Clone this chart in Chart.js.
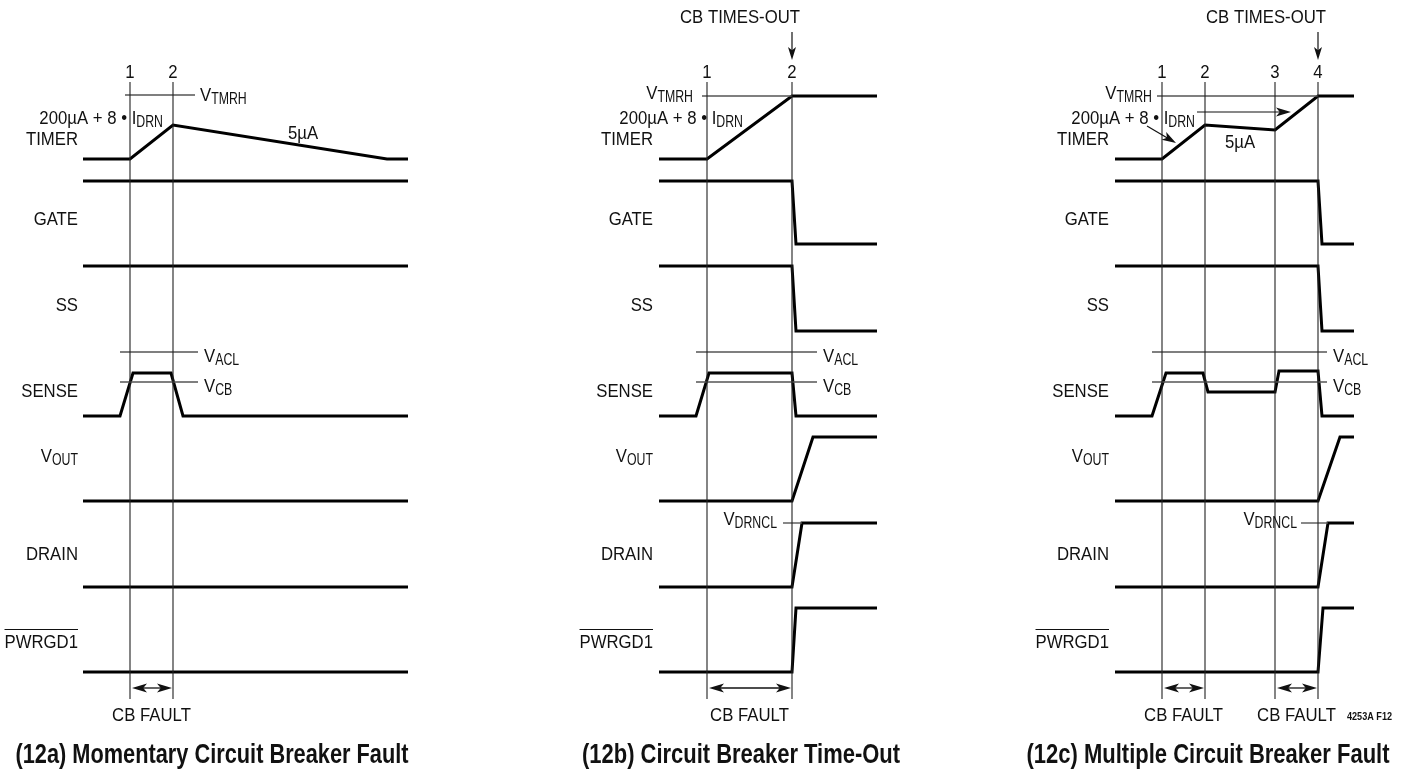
<!DOCTYPE html>
<html><head><meta charset="utf-8">
<script src="https://cdn.jsdelivr.net/npm/chart.js@4.4.1/dist/chart.umd.min.js"></script>
<style>html,body{margin:0;padding:0;background:#fff;overflow:hidden}canvas{display:block}</style>
</head><body>
<canvas id="c" width="1404" height="775"></canvas>
<script>
// ---------- DATA ----------
const signalNames = ['TIMER', 'GATE', 'SS', 'SENSE', 'VOUT', 'DRAIN', 'PWRGD1'];
const panelTitles = ['(12a) Momentary Circuit Breaker Fault', '(12b) Circuit Breaker Time-Out', '(12c) Multiple Circuit Breaker Fault'];
const eventLabelsA = ['1', '2'];
const eventLabelsB = ['1', '2'];
const eventLabelsC = ['1', '2', '3', '4'];

// Panel 12a waveforms: [time, level]
const eventsA = [130, 173];
const timerA = [[83,159],[130,159],[173,125],[387,159],[408,159]];
const gateA  = [[83,181],[408,181]];
const ssA    = [[83,266],[408,266]];
const senseA = [[83,416],[120,416],[133,373],[171,373],[183,416],[408,416]];
const voutA  = [[83,501],[408,501]];
const drainA = [[83,587],[408,587]];
const pwrgdA = [[83,672],[408,672]];

// Panel 12b waveforms
const eventsB = [707, 792];
const timerB = [[659,159],[707,159],[792,96],[877,96]];
const gateB  = [[659,181],[792,181],[796,244],[877,244]];
const ssB    = [[659,266],[792,266],[796,331],[877,331]];
const senseB = [[659,416],[696,416],[709,373],[792,373],[796,416],[877,416]];
const voutB  = [[659,501],[792,501],[813,437],[877,437]];
const drainB = [[659,587],[792,587],[802,523],[877,523]];
const pwrgdB = [[659,672],[792,672],[796,608],[877,608]];

// Panel 12c waveforms
const eventsC = [1162, 1205, 1275, 1318];
const timerC = [[1115,159],[1162,159],[1205,125],[1275,130],[1318,96],[1354,96]];
const gateC  = [[1115,181],[1318,181],[1322,244],[1354,244]];
const ssC    = [[1115,266],[1318,266],[1322,331],[1354,331]];
const senseC = [[1115,416],[1152,416],[1166,373],[1203,373],[1208,392],[1275,392],[1279,371],[1318,371],[1322,416],[1354,416]];
const voutC  = [[1115,501],[1318,501],[1340,437],[1354,437]];
const drainC = [[1115,587],[1318,587],[1328,523],[1354,523]];
const pwrgdC = [[1115,672],[1318,672],[1323,608],[1354,608]];

// Threshold levels: [start, end, level]
const vtmrhA = [125, 195, 95],  vaclA = [120, 198, 352], vcbA = [120, 198, 382];
const vtmrhB = [702, 792, 96],  vaclB = [696, 817, 352], vcbB = [696, 817, 382], vdrnclB = [783, 802, 523];
const vtmrhC = [1157, 1318, 96], vaclC = [1152, 1327, 352], vcbC = [1152, 1327, 382], vdrnclC = [1301, 1328, 523];

// Event marker span (level range)
const eventSpan = [82, 699];
// CB fault intervals
const faultsA = [[130, 173]];
const faultsB = [[707, 792]];
const faultsC = [[1162, 1205], [1275, 1318]];
const timeoutB = 792, timeoutC = 1318;

// ---------- BUILD ----------
const toXY = arr => arr.map(([x, y]) => ({x, y}));
const wave = arr => ({data: toXY(arr), borderColor: '#000', borderWidth: 3, showLine: true, pointRadius: 0, fill: false, tension: 0, borderJoinStyle: 'miter', borderCapStyle: 'butt'});
const thin = (pts, color, w) => ({data: toXY(pts), borderColor: color, borderWidth: w, showLine: true, pointRadius: 0, fill: false, tension: 0});
const hline = ([a, b, y]) => thin([[a, y], [b, y]], '#555', 1.4);
const vline = x => thin([[x, eventSpan[0]], [x, eventSpan[1]]], '#222', 1.1);

const datasets = [];
[...eventsA, ...eventsB, ...eventsC].forEach(x => datasets.push(vline(x)));
[vtmrhA, vaclA, vcbA, vtmrhB, vaclB, vcbB, vdrnclB, vtmrhC, vaclC, vcbC, vdrnclC].forEach(l => datasets.push(hline(l)));
[timerA, gateA, ssA, senseA, voutA, drainA, pwrgdA,
 timerB, gateB, ssB, senseB, voutB, drainB, pwrgdB,
 timerC, gateC, ssC, senseC, voutC, drainC, pwrgdC].forEach(w => datasets.push(wave(w)));

const FAM = '"Liberation Sans", Arial, sans-serif';
const MAIN = {font: '18px ' + FAM, sx: 0.93};
const SUB = {font: '16px ' + FAM, sx: 0.77};

function partW(ctx, p) { const f = p.sub ? SUB : MAIN; ctx.font = f.font; return ctx.measureText(p.t).width * f.sx; }
function rich(ctx, X, Y, parts, align, overline) {
  const w = parts.reduce((s, p) => s + partW(ctx, p), 0);
  let x = align === 'right' ? X - w : align === 'center' ? X - w / 2 : X;
  const x0 = x;
  ctx.textAlign = 'left'; ctx.textBaseline = 'middle'; ctx.fillStyle = '#111';
  for (const p of parts) {
    const f = p.sub ? SUB : MAIN;
    ctx.font = f.font;
    ctx.save(); ctx.translate(x, p.sub ? Y + 4 : Y); ctx.scale(f.sx, 1);
    ctx.fillText(p.t, 0, 0); ctx.restore();
    x += partW(ctx, p);
  }
  if (overline) {
    ctx.strokeStyle = '#111'; ctx.lineWidth = 1;
    ctx.beginPath(); ctx.moveTo(x0, Y - 13.5); ctx.lineTo(x0 + w, Y - 13.5); ctx.stroke();
  }
}
function fitText(ctx, text, cx, cy, font, width) {
  ctx.font = font; const w = ctx.measureText(text).width;
  ctx.save(); ctx.translate(cx, cy); ctx.scale(width / w, 1);
  ctx.textAlign = 'center'; ctx.textBaseline = 'middle'; ctx.fillText(text, 0, 0); ctx.restore();
}
function head(ctx, tx, ty, dx, dy, len, half) {
  const px = -dy, py = dx;
  ctx.beginPath();
  ctx.moveTo(tx, ty);
  ctx.lineTo(tx - dx * len + px * half, ty - dy * len + py * half);
  ctx.lineTo(tx - dx * len * 0.75, ty - dy * len * 0.75);
  ctx.lineTo(tx - dx * len - px * half, ty - dy * len - py * half);
  ctx.closePath(); ctx.fill();
}

const annot = {
  id: 'annot',
  afterDatasetsDraw(chart) {
    const ctx = chart.ctx, X = v => chart.scales.x.getPixelForValue(v), Y = v => chart.scales.y.getPixelForValue(v);
    ctx.save();
    ctx.fillStyle = '#111'; ctx.strokeStyle = '#111';
    const labelRight = [78, 653, 1109];
    const rowY = [140, 220, 306, 392, 457, 555, 643];
    labelRight.forEach(lr => {
      signalNames.forEach((n, i) => {
        let parts = [{t: n}];
        if (n === 'VOUT') parts = [{t: 'V'}, {t: 'OUT', sub: true}];
        rich(ctx, X(lr), Y(rowY[i]), parts, 'right', n === 'PWRGD1');
      });
    });
    // event numbers
    [[eventsA, eventLabelsA], [eventsB, eventLabelsB], [eventsC, eventLabelsC]].forEach(([ev, lb]) => {
      ev.forEach((x, i) => rich(ctx, X(x), Y(73), [{t: lb[i]}], 'center'));
    });
    // threshold labels
    const vt = [{t: 'V'}, {t: 'TMRH', sub: true}];
    rich(ctx, X(vtmrhA[1] + 5), Y(vtmrhA[2] + 1), vt, 'left');
    rich(ctx, X(vtmrhB[0] - 9), Y(vtmrhB[2] - 2), vt, 'right');
    rich(ctx, X(vtmrhC[0] - 5), Y(vtmrhC[2] - 2), vt, 'right');
    const acl = [{t: 'V'}, {t: 'ACL', sub: true}], cb = [{t: 'V'}, {t: 'CB', sub: true}];
    [[vaclA, vcbA], [vaclB, vcbB], [vaclC, vcbC]].forEach(([a, c]) => {
      rich(ctx, X(a[1] + 6), Y(a[2] + 5), acl, 'left');
      rich(ctx, X(c[1] + 6), Y(c[2] + 5), cb, 'left');
    });
    const dr = [{t: 'V'}, {t: 'DRNCL', sub: true}];
    rich(ctx, X(vdrnclB[0] - 6), Y(vdrnclB[2] - 3), dr, 'right');
    rich(ctx, X(vdrnclC[0] - 4), Y(vdrnclC[2] - 3), dr, 'right');
    const cur = [{t: '200\u00B5A + 8 \u2022 I'}, {t: 'DRN', sub: true}];
    rich(ctx, X(163), Y(119), cur, 'right');
    rich(ctx, X(743), Y(119), cur, 'right');
    rich(ctx, X(1195), Y(119), cur, 'right');
    rich(ctx, X(288), Y(134), [{t: '5\u00B5A'}], 'left');
    rich(ctx, X(1225), Y(143), [{t: '5\u00B5A'}], 'left');
    // CB times-out
    [timeoutB, timeoutC].forEach(tx => {
      rich(ctx, X(tx + 8), Y(18), [{t: 'CB TIMES-OUT'}], 'right');
      ctx.lineWidth = 1.2;
      ctx.beginPath(); ctx.moveTo(X(tx), Y(32)); ctx.lineTo(X(tx), Y(52)); ctx.stroke();
      head(ctx, X(tx), Y(60), 0, 1, 13, 4);
    });
    // fault arrows
    [...faultsA, ...faultsB, ...faultsC].forEach(([a, b]) => {
      const y = Y(688);
      ctx.lineWidth = 1.3;
      ctx.beginPath(); ctx.moveTo(X(a) + 8, y); ctx.lineTo(X(b) - 8, y); ctx.stroke();
      head(ctx, X(a) + 2, y, -1, 0, 15, 4.5);
      head(ctx, X(b) - 1, y, 1, 0, 15, 4.5);
      rich(ctx, X((a + b) / 2), Y(716), [{t: 'CB FAULT'}], 'center');
    });
    // 12c extra arrows
    ctx.lineWidth = 1.2;
    ctx.beginPath(); ctx.moveTo(X(1197), Y(112)); ctx.lineTo(X(1280), Y(112)); ctx.stroke();
    head(ctx, X(1291), Y(112), 1, 0, 15, 4.5);
    {
      const x0 = X(1147), y0 = Y(126), x1 = X(1176), y1 = Y(143);
      const L = Math.hypot(x1 - x0, y1 - y0), dx = (x1 - x0) / L, dy = (y1 - y0) / L;
      ctx.beginPath(); ctx.moveTo(x0, y0); ctx.lineTo(x1 - dx * 10, y1 - dy * 10); ctx.stroke();
      head(ctx, x1, y1, dx, dy, 14, 4.5);
    }
    // figure id
    fitText(ctx, '4253A F12', X(1369.5), Y(717), 'bold 11px ' + FAM, 45);
    // titles
    ctx.fillStyle = '#111';
    const titleX = [212, 741, 1208], titleW = [393, 318, 363];
    panelTitles.forEach((t, i) => fitText(ctx, t, X(titleX[i]), Y(756), 'bold 27px ' + FAM, titleW[i]));
    ctx.restore();
  }
};

new Chart(document.getElementById('c'), {
  type: 'scatter',
  data: {datasets},
  options: {
    responsive: false, animation: false, events: [],
    layout: {padding: 0},
    plugins: {legend: {display: false}, tooltip: {enabled: false}},
    scales: {
      x: {type: 'linear', min: 0, max: 1404, display: false},
      y: {type: 'linear', min: 0, max: 775, reverse: true, display: false}
    },
    elements: {line: {borderJoinStyle: 'miter'}}
  },
  plugins: [annot]
});
</script>
</body></html>
